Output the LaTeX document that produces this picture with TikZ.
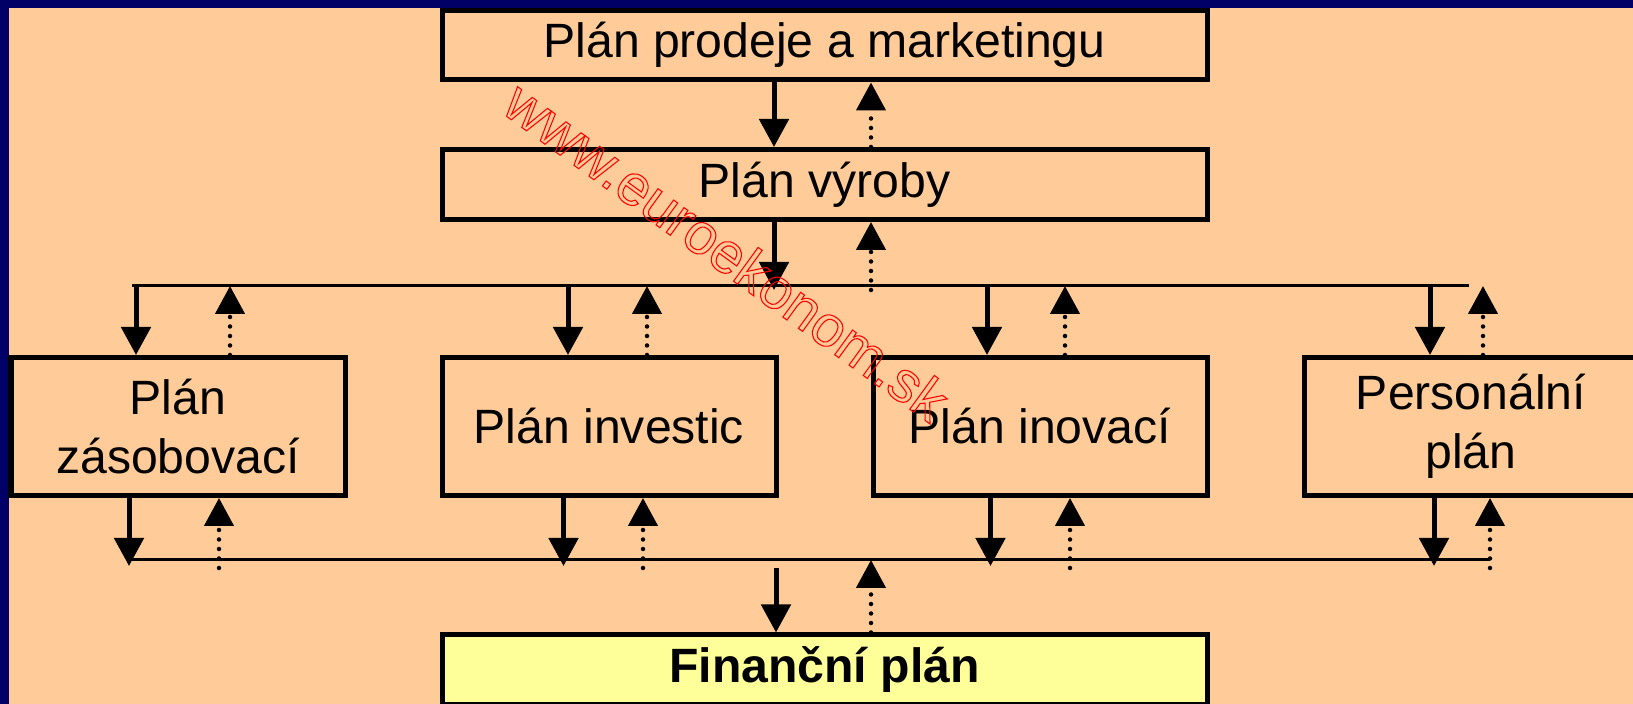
\documentclass[tikz,border=0pt]{standalone}
\usepackage{fontspec}
\setmainfont{Liberation Sans}
\usetikzlibrary{arrows.meta}
\definecolor{peach}{RGB}{255,204,153}
\definecolor{navy}{RGB}{0,0,102}
\definecolor{paleyellow}{RGB}{255,255,153}
% outlined (stroked) text for the watermark
\newcommand{\strokedtext}[1]{\special{pdf:literal direct 1 Tr 0.3 w 1 0 0 RG}#1\special{pdf:literal direct 0 Tr}}
\begin{document}
\begin{tikzpicture}[
	planbox/.style={draw, line width=0.05cm, inner sep=0pt, align=center, font=\fontsize{13.7}{16.8}\selectfont},
	wide/.style={planbox, minimum width=7.65cm, minimum height=0.7cm},
	narrow/.style={planbox, minimum width=3.34cm, minimum height=1.38cm},
	solidarrow/.style={line width=0.05cm, -{Triangle[width=0.29cm,length=0.28cm]}},
	dotarrow/.style={line width=0.045cm, dash pattern=on 0pt off 0.095cm, line cap=round, -{Triangle[width=0.29cm,length=0.28cm]}},
	bus/.style={line width=0.03cm}
]
	\useasboundingbox (0,0) rectangle (16.33,7.04);
	\fill[peach] (0,0) rectangle (16.33,7.04);
	\fill[navy] (0,0) rectangle (0.09,7.04);
	\fill[navy] (0,6.96) rectangle (16.33,7.04);

	\node[wide, minimum height=0.695cm] (prodej) at (8.245,6.5875) {Plán prodeje a marketingu};
	\node[wide] (vyroby) at (8.245,5.195) {Plán výroby};
	\node[narrow] (zas) at (1.78,2.775) {Plán\\zásobovací};
	\node[narrow] (inv) at (6.09,2.775) {Plán investic};
	\node[narrow] (ino) at (10.40,2.775) {Plán inovací};
	\node[narrow] (per) at (14.71,2.775) {Personální\\plán};
	\node[wide, fill=paleyellow, font=\fontsize{13.7}{16.8}\selectfont\bfseries] (fin) at (8.245,0.34) {Finanční plán};

	\coordinate (busA) at (1.32,4.18);
	\coordinate (busB) at (14.69,4.18);
	\coordinate (busC) at (1.29,1.44);
	\coordinate (busD) at (14.90,1.44);
	\draw[bus] (busA) -- (busB);
	\draw[bus] (busC) -- (busD);

	\draw[solidarrow] ([xshift=-0.505cm]prodej.south) -- ([xshift=-0.505cm]vyroby.north);
	\draw[dotarrow] ([xshift=0.465cm]vyroby.north) -- ([xshift=0.465cm]prodej.south);
	\draw[solidarrow, shorten >=-0.04cm] ([xshift=-0.505cm]vyroby.south) -- ([xshift=-0.505cm]vyroby.south |- busA);
	\draw[dotarrow, shorten <=-0.04cm] ([xshift=0.465cm]vyroby.south |- busA) -- ([xshift=0.465cm]vyroby.south);

	\foreach \n/\a/\b in {zas/-0.42/0.52, inv/-0.41/0.38, ino/-0.53/0.25, per/-0.41/0.12}{
		\draw[solidarrow] ([xshift=\a cm]\n.north |- busA) -- ([xshift=\a cm]\n.north);
		\draw[dotarrow] ([xshift=\b cm]\n.north) -- ([xshift=\b cm]\n.north |- busA);
	}
	\foreach \n/\a/\b in {zas/-0.49/0.41, inv/-0.455/0.34, ino/-0.495/0.30, per/-0.37/0.19}{
		\draw[solidarrow, shorten >=-0.06cm] ([xshift=\a cm]\n.south) -- ([xshift=\a cm]\n.south |- busC);
		\draw[dotarrow, shorten <=-0.08cm] ([xshift=\b cm]\n.south |- busC) -- ([xshift=\b cm]\n.south);
	}
	\draw[solidarrow, shorten <=0.08cm] ([xshift=-0.485cm]fin.north |- busC) -- ([xshift=-0.485cm]fin.north);
	\draw[dotarrow] ([xshift=0.465cm]fin.north) -- ([xshift=0.465cm]fin.north |- busC);

	% watermark
	\node[rotate=-36, text=red, font=\fontsize{16.4}{16.4}\selectfont] (mark) at (7.27,4.53) {\strokedtext{www.euroekonom.sk}};
\end{tikzpicture}
\end{document}
